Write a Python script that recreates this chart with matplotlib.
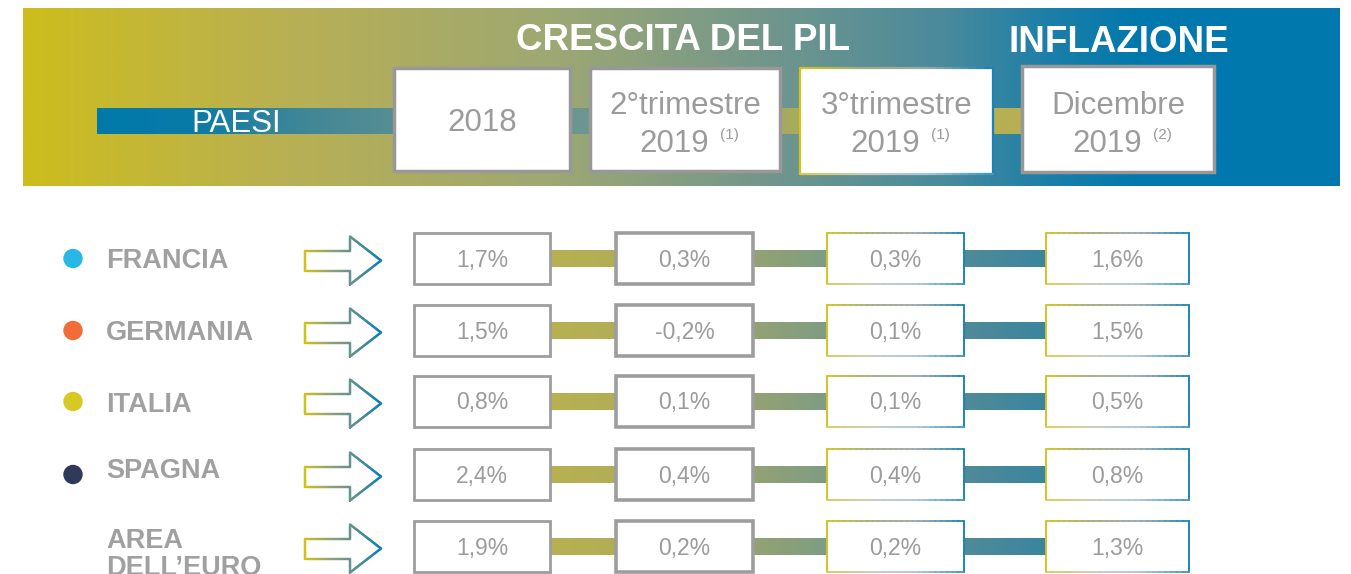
import numpy as np
import matplotlib.pyplot as plt
from matplotlib.colors import LinearSegmentedColormap
from matplotlib.collections import LineCollection
from matplotlib.patches import Rectangle, Circle

plt.rcParams['font.family'] = ['Liberation Sans', 'DejaVu Sans']

# --- data -------------------------------------------------------------
countries = ["FRANCIA", "GERMANIA", "ITALIA", "SPAGNA", "AREA\nDELL\u2019EURO"]
dot_colors = ["#29b8e5", "#f26c3a", "#d6c922", "#2f3a58", None]

pil_2018 = ["1,7%", "1,5%", "0,8%", "2,4%", "1,9%"]
pil_q2_2019 = ["0,3%", "-0,2%", "0,1%", "0,4%", "0,2%"]
pil_q3_2019 = ["0,3%", "0,1%", "0,1%", "0,4%", "0,2%"]
infl_dic_2019 = ["1,6%", "1,5%", "0,5%", "0,8%", "1,3%"]

head_main = ["2018", "2\u00b0trimestre", "3\u00b0trimestre", "Dicembre"]
head_year = [None, "2019", "2019", "2019"]
head_note = [None, "(1)", "(1)", "(2)"]

title_pil = "CRESCITA DEL PIL"
title_infl = "INFLAZIONE"
title_paesi = "PAESI"

# --- layout -----------------------------------------------------------
GRAY = "#9b9b9b"
W, H = 1351, 574

fig = plt.figure(figsize=(W / 100, H / 100), dpi=100)
ax = fig.add_axes([0, 0, 1, 1])
ax.set_xlim(0, W)
ax.set_ylim(H, 0)
ax.set_autoscale_on(False)
ax.axis("off")


def cmap_of(colors):
    return LinearSegmentedColormap.from_list("g", colors)


def grad_rect(x0, x1, y0, y1, colors, z=1):
    ax.imshow(np.linspace(0, 1, 256)[None, :], cmap=cmap_of(colors),
              extent=(x0, x1, y1, y0), aspect="auto",
              interpolation="bilinear", zorder=z)


def grad_path(pts, colors, lw, z=3, x_range=None):
    pts = np.asarray(pts, float)
    segs = []
    for a, b in zip(pts[:-1], pts[1:]):
        t = np.linspace(0, 1, 25)[:, None]
        line = a + (b - a) * t
        segs += [line[i:i + 2] for i in range(len(line) - 1)]
    segs = np.array(segs)
    xmin, xmax = x_range if x_range else (pts[:, 0].min(), pts[:, 0].max())
    mid = segs[:, :, 0].mean(axis=1)
    cm = cmap_of(colors)
    lc = LineCollection(segs, colors=cm((mid - xmin) / (xmax - xmin)),
                        linewidths=lw, capstyle="round", zorder=z)
    ax.add_collection(lc)


# header band
band = [(0.0, "#cdbd1d"), (0.2, "#b8b054"), (0.4, "#9ea872"),
        (0.55, "#76988a"), (0.7, "#4a8a9c"), (0.78, "#1c7fa8"),
        (0.85, "#0078ad"), (1.0, "#0077ad")]
ax.imshow(np.linspace(0, 1, 512)[None, :],
          cmap=LinearSegmentedColormap.from_list("band", band),
          extent=(23, 1340, 186, 8), aspect="auto",
          interpolation="bilinear", zorder=0)

# PAESI bar and header connectors
grad_rect(97, 396, 108, 134, ["#0079aa", "#0a7ba8", "#3d8698", "#578e92"])
ax.text(236, 124, title_paesi, color="white", fontsize=22.5,
        ha="center", va="center", zorder=5)
grad_rect(568, 592, 108, 134, ["#6c9690", "#6c9690"])
grad_rect(778, 802, 108, 134, ["#a4aa62", "#aaac5c"])
grad_rect(991, 1024, 108, 134, ["#b6b052", "#b6b052"])

ax.text(683, 40, title_pil, color="white", fontsize=26.5,
        fontweight="bold", ha="center", va="center", zorder=5)
ax.text(1119, 43, title_infl, color="white", fontsize=26.5,
        fontweight="bold", ha="center", va="center", zorder=5)

# header boxes
head_boxes = [(394, 570, 68, 171), (590, 780, 68, 171),
              (800, 993, 68, 174), (1022, 1214, 66, 172)]
box_grad_top = ["#d2c31c", "#a0aa80", "#9aa8a8", "#1a82b6"]
box_grad_bot = ["#d8cb50", "#c8cbb8", "#a8c6d6", "#3a94c2"]
for i, (x0, x1, y0, y1) in enumerate(head_boxes):
    cx = (x0 + x1) / 2
    if i == 2:
        ax.add_patch(Rectangle((x0, y0), x1 - x0, y1 - y0, facecolor="white",
                               edgecolor="none", zorder=2))
        grad_path([(x0, y1), (x0, y0), (x1, y0), (x1, y1)], box_grad_top, 1.6)
        grad_path([(x0, y1), (x1, y1)], box_grad_bot, 1.6, x_range=(x0, x1))
    else:
        ax.add_patch(Rectangle((x0, y0), x1 - x0, y1 - y0, facecolor="white",
                               edgecolor="#989898", linewidth=2.5, zorder=2))
    if head_year[i] is None:
        ax.text(cx, 123, head_main[i], color=GRAY, fontsize=22.5,
                ha="center", va="center", zorder=5)
    else:
        ax.text(cx, 106, head_main[i], color=GRAY, fontsize=22.5,
                ha="center", va="center", zorder=5)
        ax.text(cx - 11, 144, head_year[i], color=GRAY, fontsize=22.5,
                ha="center", va="center", zorder=5)
        ax.text(cx + 35, 135, head_note[i], color=GRAY, fontsize=11,
                ha="left", va="center", zorder=5)

# --- rows -------------------------------------------------------------
row_top = [233, 305, 376, 449, 521]
box_h = 51
cols = [(414, 550), (616, 753), (827, 964), (1046, 1189)]
values = [pil_2018, pil_q2_2019, pil_q3_2019, infl_dic_2019]
links = [["#b7b150", "#b2ae56"], ["#94a272", "#7e9d84"],
         ["#508b98", "#3a85a0"]]
arrow_cols = ["#cfc21c", "#8fa07a", "#5a8f92", "#0a7fb5"]

for r, name in enumerate(countries):
    y0 = row_top[r]
    yc = y0 + box_h / 2

    # label and dot
    if dot_colors[r]:
        ax.add_patch(Circle((73, yc), 9, color=dot_colors[r], zorder=4))
    ax.text(106, yc + 3 + (5 if "\n" in name else 0) - (6 if r == 3 else 0),
            name, color="#a0a0a0", fontsize=19.5, fontweight="bold",
            ha="left", va="center", linespacing=1.05, zorder=5)

    # arrow
    ay = yc + 2
    arrow = [(305, ay - 10), (350, ay - 10), (350, ay - 24), (381, ay),
             (350, ay + 24), (350, ay + 10), (305, ay + 10), (305, ay - 10)]
    grad_path(arrow, arrow_cols, 1.7)

    # connectors
    for k in range(3):
        grad_rect(cols[k][1], cols[k + 1][0], yc - 8.5, yc + 8.5, links[k])

    # boxes
    for k, (x0, x1) in enumerate(cols):
        y1 = y0 + box_h
        if k < 2:
            ax.add_patch(Rectangle((x0, y0), x1 - x0, box_h, facecolor="white",
                                   edgecolor="#9d9d9d",
                                   linewidth=2.0 if k == 0 else 2.6, zorder=2))
        else:
            ax.add_patch(Rectangle((x0, y0), x1 - x0, box_h, facecolor="white",
                                   edgecolor="none", zorder=2))
            grad_path([(x0, y1), (x0, y0), (x1, y0), (x1, y1)],
                      box_grad_top, 1.3)
            grad_path([(x0, y1), (x1, y1)], box_grad_bot, 1.3,
                      x_range=(x0, x1))
        ax.text((x0 + x1) / 2, yc + 1.5, values[k][r], color=GRAY,
                fontsize=16.5, ha="center", va="center", zorder=5)

fig.savefig("out.png", dpi=100)
plt.close(fig)
